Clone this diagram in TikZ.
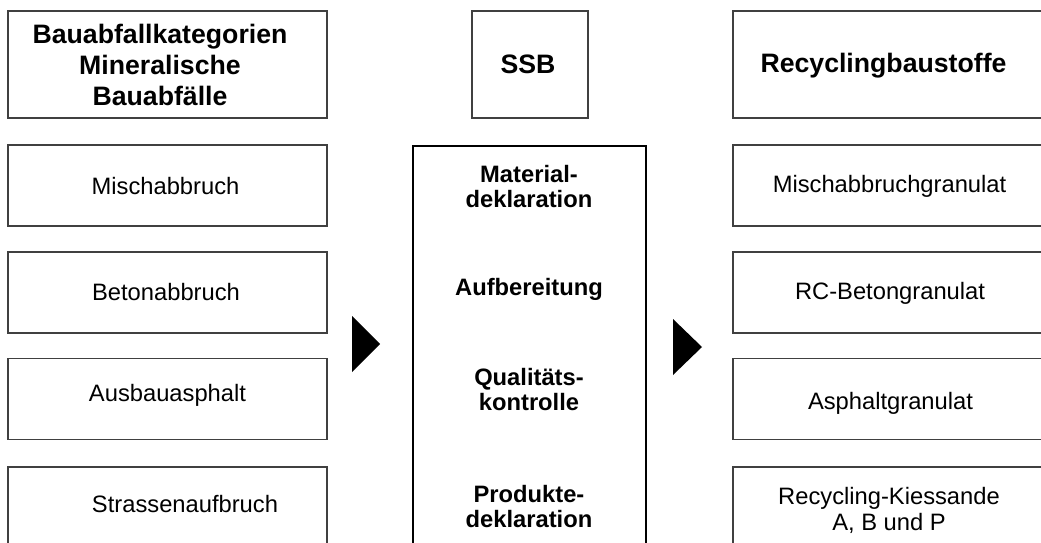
\documentclass[tikz,border=0pt]{standalone}
\usepackage{fontspec}
\setmainfont{Liberation Sans}
\begin{document}
\begin{tikzpicture}[x=0.75pt,y=-0.75pt,
		box/.style={draw=black!75,line width=0.8pt,minimum width=239.25pt,minimum height=60.75pt,inner sep=0pt},
		head/.style={box,minimum height=80.25pt},
		txt/.style={align=center,inner sep=0pt,font=\fontsize{17.8}{19.5}\selectfont},
		htxt/.style={txt,font=\fontsize{20}{23.25}\selectfont\bfseries},
		stage/.style={align=center,inner sep=0pt,font=\fontsize{17.8}{18.75}\selectfont\bfseries}]
		\useasboundingbox (0,0) rectangle (1041,542);
		\clip (0,0) rectangle (1041,542);
		% Kopfzeile
		\node[head] (lhead) at (167.5,64.5) {};
		\node[head,minimum width=87pt] (ssb) at (530,64.5) {};
		\node[head,minimum width=235.5pt] (rhead) at (890,64.5) {};
		\node[htxt] at (160,64.5) {Bauabfallkategorien\\Mineralische\\Bauabfälle};
		\node[htxt] at (528,64.5) {SSB};
		\node[htxt] at (883.5,66) {Recyclingbaustoffe};
		% Spalten links und rechts
		\foreach \y in {185.5,292.5,399,507.5}{
			\node[box] (l\y) at (167.5,\y) {};
			\node[box,minimum width=235.5pt] (r\y) at (890,\y) {};
		}
		\foreach \x/\y/\t in {165.5/186/Mischabbruch,166/292.5/Betonabbruch,167.5/395/Ausbauasphalt,185/504/Strassenaufbruch,
			889.5/186/Mischabbruchgranulat,890/293/RC-Betongranulat,890.5/403/Asphaltgranulat,889/510.5/{Recycling-Kiessande\\A, B und P}}
			\node[txt] at (\x,\y) {\t};
		% SSB-Prozess
		\node[draw,line width=1.8pt,minimum width=174.75pt,minimum height=341.25pt,anchor=north] (proc) at (529.5,145) {};
		\foreach \y/\t [count=\i] in {187/{Material-\\deklaration},289.5/Aufbereitung,390/{Qualitäts-\\kontrolle},507/{Produkte-\\deklaration}}\node[stage] (s\i) at (529,\y) {\t};
		% Pfeile
		\fill (352,316)--(380,344)--(352,372)--cycle (673,319)--(702,347)--(673,375)--cycle;
\end{tikzpicture}
\end{document}
